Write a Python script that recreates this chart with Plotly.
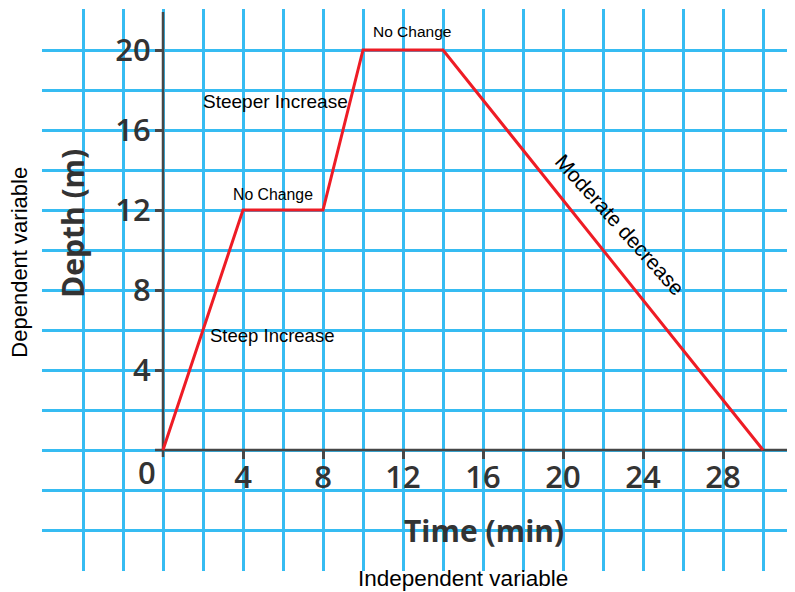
import plotly.graph_objects as go

# Data
time_min = [0, 4, 8, 10, 14, 30]
depth_m = [0, 12, 12, 20, 20, 0]
x_tick_vals = [4, 8, 12, 16, 20, 24, 28]
x_tick_text = ["4", "8", "12", "16", "20", "24", "28"]
y_tick_vals = [4, 8, 12, 16, 20]
y_tick_text = ["4", "8", "12", "16", "20"]

GRID = "#36bcf2"
AXIS = "#474747"
TICKFAM = "Open Sans, Liberation Sans, Arial"
TICKFONT = dict(family=TICKFAM, size=31, color="#333333", weight=600)
ANNFONT = "Liberation Sans, Arial, sans-serif"

XMIN, XMAX = -6.05, 31.6
YMIN, YMAX = -6.05, 22.05

fig = go.Figure()
fig.add_trace(go.Scatter(
    x=time_min, y=depth_m, mode="lines",
    line=dict(color="#ee1c25", width=3),
    hoverinfo="skip", cliponaxis=False,
))

# the page body adds an 8px offset, so the figure is 8px smaller
fig.update_layout(
    width=787, height=584,
    margin=dict(l=34, r=0, t=1, b=21, autoexpand=False),
    plot_bgcolor="white", paper_bgcolor="white",
    showlegend=False,
    xaxis=dict(
        range=[XMIN, XMAX], anchor="free", automargin=False,
        position=(0 - YMIN) / (YMAX - YMIN),
        tickmode="array", tickvals=x_tick_vals, ticktext=x_tick_text,
        ticks="outside", ticklen=8, tickwidth=2.5, tickcolor=AXIS,
        tickfont=TICKFONT, ticklabelstandoff=-8,
        showgrid=True, gridcolor=GRID, gridwidth=3,
        minor=dict(tickmode="linear", tick0=0, dtick=2, showgrid=True,
                   gridcolor=GRID, gridwidth=3, ticks=""),
        showline=False, zeroline=False, fixedrange=True,
    ),
    yaxis=dict(
        range=[YMIN, YMAX], anchor="free", automargin=False,
        position=(0 - XMIN) / (XMAX - XMIN),
        tickmode="array", tickvals=y_tick_vals, ticktext=y_tick_text,
        ticks="outside", ticklen=8, tickwidth=2.5, tickcolor=AXIS,
        tickfont=TICKFONT, ticklabelstandoff=-2,
        showgrid=True, gridcolor=GRID, gridwidth=3,
        minor=dict(tickmode="linear", tick0=0, dtick=2, showgrid=True,
                   gridcolor=GRID, gridwidth=3, ticks=""),
        showline=False, zeroline=False, fixedrange=True,
    ),
)

# axis lines
fig.add_shape(type="line", xref="x", yref="y", x0=-0.4, y0=0, x1=XMAX, y1=0,
              line=dict(color=AXIS, width=2.5), layer="between")
fig.add_shape(type="line", xref="x", yref="y", x0=0, y0=-0.35, x1=0, y1=21.9,
              line=dict(color=AXIS, width=2.5), layer="between")

def ann(text, x, y, size, angle=0, color="black", family=ANNFONT, bold=False,
        xref="x", yref="y", weight=None):
    font = dict(family=family, size=size, color=color)
    if weight:
        font["weight"] = weight
    fig.add_annotation(
        text=f"<b>{text}</b>" if bold else text,
        x=x, y=y, xref=xref, yref=yref, showarrow=False,
        xanchor="center", yanchor="middle",
        textangle=angle, font=font,
    )

ann("0", -0.8, -1.1, 31, color="#333333", family=TICKFAM, weight=600)
ann("No Change", 12.45, 20.95, 15.5)
ann("Steeper Increase", 5.6, 17.45, 19)
ann("No Change", 5.5, 12.8, 15.8)
ann("Steep Increase", 5.45, 5.75, 18.5)
ann("Moderate decrease", 22.85, 11.3, 21, angle=48)
ann("Depth (m)", -4.55, 11.3, 30, angle=-90, color="#333333",
    family=TICKFAM, bold=True)
ann("Time (min)", 16.05, -4.0, 30, color="#333333",
    family=TICKFAM, bold=True)
ann("Dependent variable", -0.0295, 0.55, 22, angle=-90, xref="paper", yref="paper")
ann("Independent variable", 0.559, -0.0125, 22.5, xref="paper", yref="paper")

fig.write_html("out.html")
